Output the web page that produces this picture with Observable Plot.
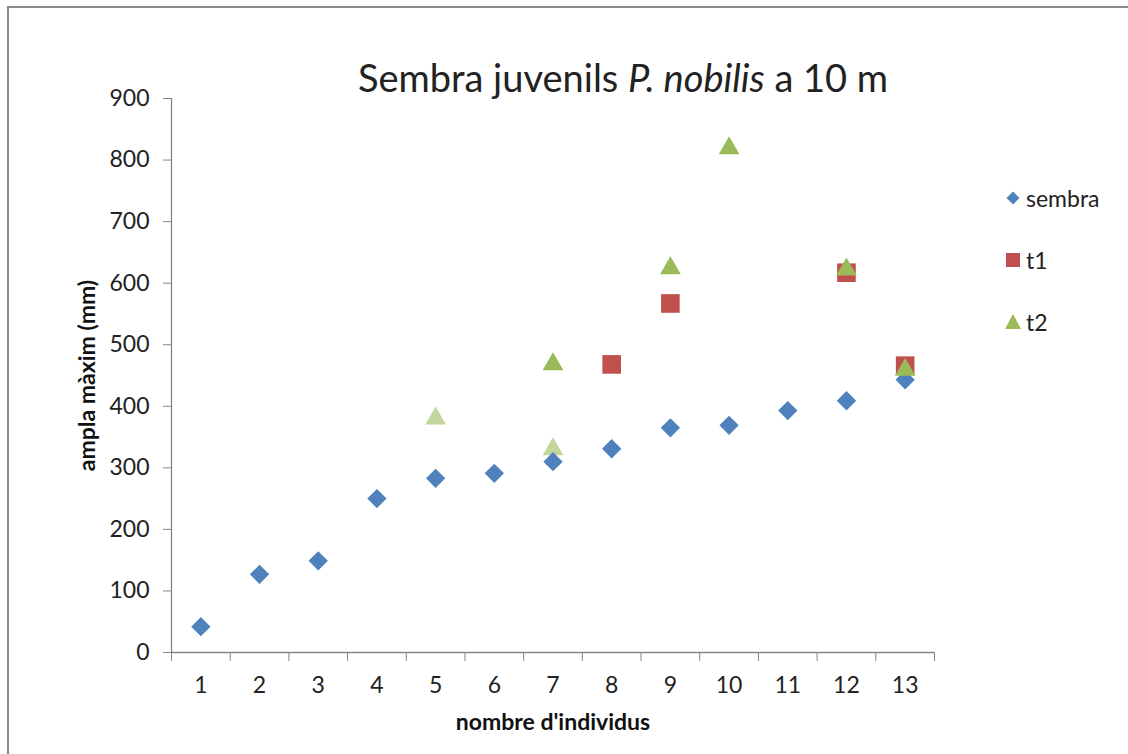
<!DOCTYPE html>
<html>
<head>
<meta charset="utf-8">
<script src="https://cdn.jsdelivr.net/npm/d3@7"></script>
<script src="https://cdn.jsdelivr.net/npm/@observablehq/plot@0.6"></script>
<style>
  html, body { margin: 0; padding: 0; background: #fff; }
  #wrap { position: relative; width: 1128px; height: 754px; overflow: hidden; font-family: Lato, "Open Sans", sans-serif; color: #222; }
  #frame { position: absolute; left: 7px; top: 6px; width: 1200px; height: 800px; border: 2px solid #8a8a8a; box-sizing: border-box; }
  #chart { position: absolute; left: 0; top: 0; }
  #title { position: absolute; left: 0; width: 1246px; top: 55px; text-align: center; font-size: 38px; line-height: 44px; white-space: nowrap; }
  #legend { position: absolute; left: 1004px; top: 184px; font-size: 23px; }
  #legend .row { position: absolute; left: 0; display: flex; align-items: center; white-space: nowrap; height: 28px; }
  #legend svg { width: 18px; height: 18px; margin-right: 4px; }
</style>
</head>
<body>
<div id="wrap">
  <div id="frame"></div>
  <div id="chart"></div>
  <div id="title">Sembra juvenils <i>P. nobilis</i> a 10 m</div>
  <div id="legend"></div>
</div>
<script>
// Categories on the x axis (number of individuals)
const categories = [1, 2, 3, 4, 5, 6, 7, 8, 9, 10, 11, 12, 13];

// Maximum width (mm) per series
const sembraValues = [42, 127, 149, 250, 283, 291, 310, 331, 365, 369, 393, 409, 443];
const t1Categories = [8, 9, 12, 13];
const t1Values = [468, 567, 617, 466];
const t2Categories = [7, 9, 10, 12, 13];
const t2Values = [473, 629, 824, 627, 464];
// Earlier, faded t2 readings
const t2FadedCategories = [5, 7];
const t2FadedValues = [385, 335];

const yTicks = [0, 100, 200, 300, 400, 500, 600, 700, 800, 900];

const colors = { sembra: "#4f81bd", t1: "#c0504d", t2: "#9bbb59", t2faded: "#c3d69b" };
const axisGray = "#868686";

const sembra = categories.map((c, i) => ({ c, v: sembraValues[i] }));
const t1 = t1Categories.map((c, i) => ({ c, v: t1Values[i] }));
const t2 = t2Categories.map((c, i) => ({ c, v: t2Values[i] }));
const t2Faded = t2FadedCategories.map((c, i) => ({ c, v: t2FadedValues[i] }));

// Category boundaries for the x tick marks
const bounds = d3.range(0.5, categories.length + 1, 1);

const chart = Plot.plot({
  width: 1128,
  height: 754,
  marginLeft: 171,
  marginRight: 194,
  marginTop: 98,
  marginBottom: 102,
  style: { fontFamily: "Lato, 'Open Sans', sans-serif", background: "transparent" },
  x: { type: "linear", domain: [0.5, categories.length + 0.5] },
  y: { domain: [0, 900] },
  marks: [
    Plot.ruleY([0], { stroke: axisGray, strokeWidth: 1.3 }),
    Plot.ruleX([0.5], { stroke: axisGray, strokeWidth: 1.3 }),
    Plot.axisY({ ticks: yTicks, tickSize: 8, tickPadding: 14, fontSize: 23, color: "#222", stroke: axisGray, label: null }),
    Plot.axisX({ ticks: bounds, tickSize: 9, tickFormat: () => "", stroke: axisGray, label: null }),
    Plot.axisX({ ticks: categories, tickSize: 0, tickPadding: 24, fontSize: 23, color: "#222", tickFormat: d3.format("d"), label: null }),
    Plot.text(["ampla màxim (mm)"], { frameAnchor: "left", textAnchor: "middle", dx: -84, rotate: -90, fontSize: 23, fontWeight: "bold", fill: "#111" }),
    Plot.text(["nombre d'individus"], { frameAnchor: "bottom", textAnchor: "middle", dy: 77, fontSize: 23, fontWeight: "bold", fill: "#111" }),
    Plot.dot(t2Faded, { x: "c", y: "v", symbol: "triangle", r: 7.7, dy: 3, fill: colors.t2faded }),
    Plot.dot(sembra, { x: "c", y: "v", symbol: "diamond2", r: 8.7, fill: colors.sembra }),
    Plot.dot(t1, { x: "c", y: "v", symbol: "square", r: 10.5, fill: colors.t1 }),
    Plot.dot(t2, { x: "c", y: "v", symbol: "triangle", r: 7.7, dy: 3, fill: colors.t2 })
  ]
});
document.getElementById("chart").appendChild(chart);

// Legend to the right of the plot area
const legendItems = [
  { name: "sembra", color: colors.sembra, shape: "M9,2.5 L15.5,9 L9,15.5 L2.5,9 Z", top: 0 },
  { name: "t1", color: colors.t1, shape: "M2,2 H16 V16 H2 Z", top: 62 },
  { name: "t2", color: colors.t2, shape: "M9,1 L17,16 L1,16 Z", top: 124 }
];
const legend = document.getElementById("legend");
for (const item of legendItems) {
  const row = document.createElement("div");
  row.className = "row";
  row.style.top = item.top + "px";
  row.innerHTML = `<svg viewBox="0 0 18 18"><path d="${item.shape}" fill="${item.color}"/></svg><span>${item.name}</span>`;
  legend.appendChild(row);
}
</script>
</body>
</html>
